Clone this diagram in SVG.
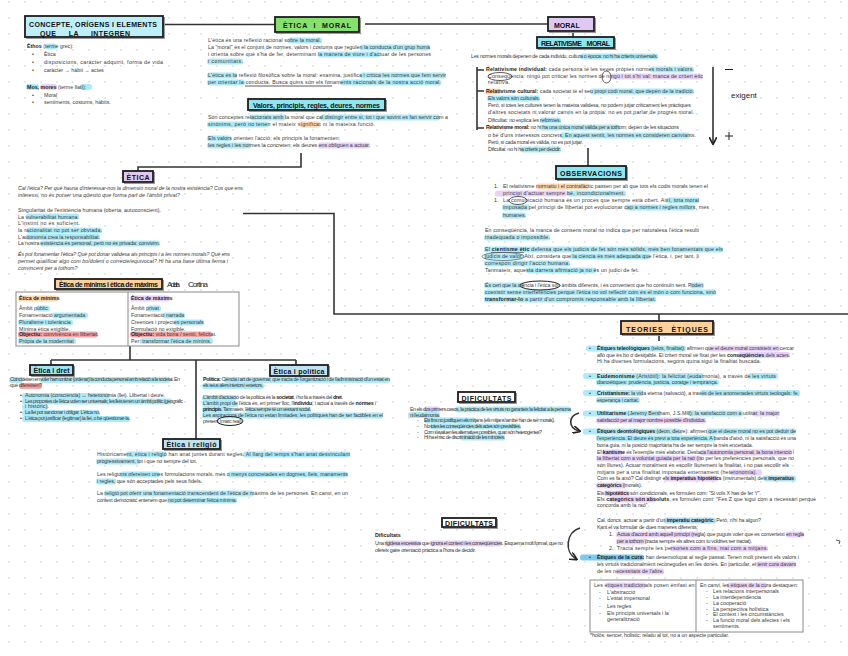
<svg xmlns="http://www.w3.org/2000/svg" width="848" height="656" viewBox="0 0 848 656">
<defs>
<pattern id="dots" x="1" y="-6" width="16" height="16" patternUnits="userSpaceOnUse"><circle cx="8" cy="8" r="0.75" fill="#c8c8c8"/></pattern>
<marker id="ah" viewBox="0 0 10 10" refX="8" refY="5" markerWidth="5" markerHeight="5" orient="auto-start-reverse"><path d="M0,0 L10,5 L0,10" fill="none" stroke="#222" stroke-width="2"/></marker>
<style>
.t{font-family:"Liberation Sans",Arial,sans-serif;font-size:5.3px;fill:#3a3a3a}
.b{font-weight:bold;fill:#222}
.i{font-style:italic}
.hd{font-family:"Liberation Sans",Arial,sans-serif;font-weight:bold;fill:#111;font-size:7px}
.hw{font-family:"Liberation Sans Narrow","Liberation Sans",sans-serif;font-size:8px;fill:#222}
.bx{stroke:#1c1c1c;stroke-width:1.8}
.sh{fill:none;stroke:#9a9a9a;stroke-width:1}
.hc{fill:#aeeaf8}
.hp{fill:#e8d3f8}
.ho{fill:#ffd8b0}
.hr{fill:#f6a5a5}
.hb{fill:#7cc9f2}
.ln{stroke:#333;stroke-width:1.6;fill:none}
.tb{fill:#fff;stroke:#8a8a8a;stroke-width:1}
</style>
</defs>
<rect width="848" height="656" fill="#fff"/>
<rect width="848" height="656" fill="url(#dots)"/>

<g id="connectors">
<path class="ln" d="M163,24.5 H275"/>
<path class="ln" d="M365,24 H548"/>
<path class="ln" d="M573,31 V37"/>
<path class="ln" d="M301,153 V167 H138 V171"/>
<path class="ln" d="M243,213.5 H334 V314 H848"/>
<path class="ln" d="M659,314 V321"/>
<path class="ln" d="M659,334 V341"/>
<path class="ln" d="M588,148 V166"/>
<path class="ln" d="M130,346 V360"/>
<path class="ln" d="M51,360 H296"/>
<path class="ln" d="M51,360 V365"/>
<path class="ln" d="M296,360 V365"/>
<path class="ln" d="M196,360 V439"/>
<path class="ln" d="M477,67 V130 M477,70 H484 M477,91 H484 M477,128 H484" stroke-width="1.2"/>
<path class="ln" d="M713,67 V143" stroke-width="1.3" marker-end="url(#ah)"/>
<path class="ln" d="M579,413 C568,416 568,428 579,431" stroke-width="1.3" marker-end="url(#ah)"/>
<path class="ln" d="M580,528 C566,532 564,552 576,559" stroke-width="1.3" marker-end="url(#ah)"/>
<path d="M836,540 l4,1 l-1,3" fill="none" stroke="#444" stroke-width="0.9"/>
</g>

<g id="n-concepte">
<rect class="sh" x="26.5" y="17.5" width="138" height="21"/>
<rect class="bx" x="25" y="16" width="138" height="21" fill="#bdeffa"/>
<text class="hd" x="29" y="27" textLength="128">CONCEPTE, ORÍGENS I ELEMENTS</text>
<text class="hd" x="40" y="35.5" textLength="90" word-spacing="10">QUE LA INTEGREN</text>
<rect class="hc" x="45" y="43.5" width="12" height="6" rx="2.5"/>
<text class="t" x="27" y="48"><tspan class="b">Èthos</tspan> (terme grec):</text>
<text class="t" x="32" y="56">•</text><text class="t" x="44" y="56">Ètica</text>
<text class="t" x="32" y="64">•</text><text class="t" x="44" y="64" textLength="119">disposicions, caràcter adquirit, forma de vida</text>
<text class="t" x="32" y="72">•</text><text class="t" x="44" y="72">caràcter → hàbit → actes</text>
<rect class="hc" x="26" y="84" width="13" height="6" rx="2.5"/>
<rect class="hp" x="40" y="84" width="17" height="6" rx="2.5"/>
<rect class="hc" x="80" y="84" width="12" height="6" rx="2.5"/>
<text class="t" x="27" y="88.5"><tspan class="b">Mos, mores</tspan> (terme llatí):</text>
<text class="t" x="32" y="96.5">•</text><text class="t" x="44" y="96.5">Moral</text>
<text class="t" x="32" y="104">•</text><text class="t" x="44" y="104">sentiments, costums, hàbits.</text>
</g>

<g id="n-eticamoral">
<rect class="sh" x="276.5" y="18.5" width="84" height="15"/>
<rect class="bx" x="275" y="17" width="84" height="15" fill="#86e06c"/>
<text class="hd" x="283" y="28" font-size="8.5" textLength="68" word-spacing="3">ÈTICA I MORAL</text>
<rect class="hc" x="288" y="37.5" width="34" height="6" rx="2.5"/>
<rect class="hc" x="360" y="44.5" width="70" height="6" rx="2.5"/>
<rect class="hc" x="318" y="51.5" width="62" height="6" rx="2.5"/>
<rect class="hc" x="207" y="58.5" width="36" height="6" rx="2.5"/>
<rect class="hc" x="207" y="72.5" width="30" height="6" rx="2.5"/>
<rect class="hc" x="360" y="72.5" width="86" height="6" rx="2.5"/>
<rect class="hc" x="207" y="79.5" width="38" height="6" rx="2.5"/>
<rect class="hc" x="340" y="79.5" width="101" height="6" rx="2.5"/>
<text class="t" x="208" y="42" textLength="113">L'ètica és una reflexió racional sobre la moral.</text>
<text class="t" x="208" y="49" textLength="222">La "moral" és el conjunt de normes, valors i costums que regulen la conducta d'un grup humà</text>
<text class="t" x="208" y="56" textLength="223">i orienta sobre què s'ha de fer, determinant la manera de viure i d'actuar de les persones</text>
<text class="t" x="208" y="63" textLength="35">i comunitats.</text>
<text class="t" x="208" y="77" textLength="238">L'ètica és la reflexió filosòfica sobre la moral: examina, justifica i critica les normes que fem servir</text>
<text class="t" x="208" y="84" textLength="233">per orientar la conducta. Busca quins són els fonaments racionals de la nostra acció moral.</text>
<path d="M245,86 H332" stroke="#333" stroke-width="0.8"/>
</g>

<g id="n-valors">
<rect class="sh" x="249.5" y="100.5" width="137" height="11"/>
<rect class="bx" x="248" y="99" width="137" height="11" fill="#8ee6f0"/>
<text class="hd" x="253" y="107.5" font-size="6.3" textLength="127">Valors, principis, regles, deures, normes</text>
<rect class="hc" x="250" y="114.5" width="36" height="6" rx="2.5"/>
<rect class="hc" x="320" y="114.5" width="120" height="6" rx="2.5"/>
<rect class="hc" x="207" y="121.5" width="62" height="6" rx="2.5"/>
<rect class="ho" x="300" y="121.5" width="20" height="6" rx="2.5"/>
<rect class="hc" x="207" y="135.5" width="24" height="6" rx="2.5"/>
<rect class="hc" x="207" y="142.5" width="44" height="6" rx="2.5"/>
<rect class="hp" x="318" y="142.5" width="52" height="6" rx="2.5"/>
<text class="t" x="208" y="119" textLength="240">Són conceptes relacionats amb la moral que cal distingir entre si, tot i que sovint es fan servir com a</text>
<text class="t" x="208" y="126" textLength="167">sinònims, però no tenen el mateix significat ni la mateixa funció.</text>
<text class="t" x="208" y="140" textLength="132">Els valors orienten l'acció; els principis la fonamenten;</text>
<text class="t" x="208" y="147" textLength="162">les regles i les normes la concreten; els deures ens obliguen a actuar.</text>
</g>

<g id="n-moral">
<rect class="sh" x="549.5" y="18.5" width="46" height="14"/>
<rect class="bx" x="548" y="17" width="46" height="14" fill="#dfc8f2"/>
<text class="hd" x="554" y="28" font-size="9">MORAL</text>
</g>

<g id="n-relativisme">
<rect class="sh" x="538.5" y="38.5" width="77" height="11"/>
<rect class="bx" x="537" y="37" width="77" height="11" fill="#8ee6f0"/>
<text class="hd" x="541" y="45.5" font-size="6.2" textLength="69" word-spacing="4">RELATIVISME MORAL</text>
<rect class="hc" x="580" y="53.5" width="78" height="6" rx="2.5"/>
<text class="t" x="471" y="58" textLength="187">Les normes morals depenen de cada individu, cultura o època: no hi ha criteris universals.</text>
<rect class="hc" x="650" y="66.5" width="44" height="6" rx="2.5"/>
<rect class="hp" x="611" y="73.5" width="92" height="6" rx="2.5"/>
<rect class="ho" x="485" y="88.5" width="16" height="6" rx="2.5"/>
<rect class="hc" x="590" y="88.5" width="104" height="6" rx="2.5"/>
<rect class="hc" x="487" y="95.5" width="53" height="6" rx="2.5"/>
<rect class="hc" x="540" y="117.5" width="21" height="6" rx="2.5"/>
<rect class="hc" x="540" y="124.5" width="80" height="6" rx="2.5"/>
<rect class="hc" x="560" y="132.5" width="130" height="6" rx="2.5"/>
<rect class="hc" x="520" y="146.5" width="41" height="6" rx="2.5"/>
<text class="t" x="486" y="71" textLength="208"><tspan class="b">Relativisme individual:</tspan> cada persona té les seves pròpies normes morals i valors.</text>
<text class="t" x="488" y="78" textLength="215">Conseqüència: ningú pot criticar les normes de ningú i tot s'hi val: manca de criteri ètic</text>
<ellipse cx="500" cy="76.5" rx="12" ry="4" fill="none" stroke="#333" stroke-width="0.8"/>
<ellipse cx="606.5" cy="77" rx="4.5" ry="6" fill="none" stroke="#333" stroke-width="0.8"/>
<text class="t" x="488" y="84" textLength="22">relativa.</text>
<text class="t" x="486" y="93" textLength="208"><tspan class="b">Relativisme cultural:</tspan> cada societat té el seu propi codi moral, que depèn de la tradició.</text>
<text class="t" x="488" y="100" textLength="52">Els valors són culturals.</text>
<text class="t" x="488" y="107" textLength="203">Però, si totes les cultures tenen la mateixa validesa, no podem jutjar críticament les pràctiques</text>
<text class="t" x="488" y="114" textLength="206">d'altres societats ni valorar canvis en la pròpia: no es pot parlar de progrés moral.</text>
<text class="t" x="488" y="122" textLength="73">Dificultat: no explica les reformes.</text>
<text class="t" x="486" y="129" textLength="193"><tspan class="b">Relativisme moral:</tspan> no hi ha una única moral vàlida per a tothom; depèn de les situacions</text>
<text class="t" x="488" y="137" textLength="208">o bé d'uns interessos concrets. En aquest sentit, les normes es consideren canviants.</text>
<text class="t" x="488" y="144" textLength="95">Però, si cada moral és vàlida, no es pot jutjar.</text>
<text class="t" x="488" y="151" textLength="73">Dificultat: no hi ha criteris per decidir.</text>
<path d="M725,69.5 H733" stroke="#222" stroke-width="1"/>
<text class="hw" x="731" y="98" font-size="9">exigent</text>
<path d="M725,136 H733 M729,132 V140" stroke="#222" stroke-width="1"/>
</g>

<g id="n-observacions">
<rect class="sh" x="557.5" y="167.5" width="70" height="13"/>
<rect class="bx" x="556" y="166" width="70" height="13" fill="#8ee6f0"/>
<text class="hd" x="560" y="175.5" font-size="6.6" textLength="62">OBSERVACIONS</text>
<rect class="ho" x="536" y="183.5" width="53" height="6" rx="2.5"/>
<rect class="hp" x="495" y="190.5" width="72" height="6" rx="2.5"/>
<rect class="hc" x="567" y="190.5" width="59" height="6" rx="2.5"/>
<rect class="hc" x="666" y="197.5" width="33" height="6" rx="2.5"/>
<rect class="hc" x="502" y="204.5" width="28" height="6" rx="2.5"/>
<rect class="hc" x="625" y="204.5" width="70" height="6" rx="2.5"/>
<rect class="hc" x="502" y="212.5" width="24" height="6" rx="2.5"/>
<rect class="hc" x="484" y="234.5" width="66" height="6" rx="2.5"/>
<rect class="hc" x="484" y="246.5" width="239" height="6" rx="2.5"/>
<rect class="hc" x="484" y="253.5" width="40" height="6" rx="2.5"/>
<rect class="hc" x="570" y="253.5" width="80" height="6" rx="2.5"/>
<rect class="hc" x="484" y="260.5" width="86" height="6" rx="2.5"/>
<rect class="hc" x="526" y="267.5" width="70" height="6" rx="2.5"/>
<rect class="hc" x="484" y="282.5" width="40" height="6" rx="2.5"/>
<rect class="hc" x="690" y="282.5" width="14" height="6" rx="2.5"/>
<rect class="hc" x="484" y="289.5" width="232" height="6" rx="2.5"/>
<rect class="hc" x="484" y="296.5" width="172" height="6" rx="2.5"/>
<text class="t" x="494" y="188">1.</text>
<text class="t" x="503" y="188" textLength="205">El relativisme normatiu i el contrafàctic passen per alt que tots els codis morals tenen el</text>
<text class="t" x="503" y="195" textLength="122">principi d'actuar sempre bé, incondicionalment.</text>
<text class="t" x="494" y="202">1.</text>
<text class="t" x="503" y="202" textLength="196">La comunicació humana és un procés que sempre està obert. Així, tota moral</text>
<ellipse cx="518" cy="200.5" rx="9" ry="4" fill="none" stroke="#333" stroke-width="0.8"/>
<text class="t" x="503" y="209" textLength="206">imposada pel principi de llibertat pot evolucionar cap a normes i regles millors, més</text>
<text class="t" x="503" y="216.5" textLength="23">humanes.</text>
<text class="t" x="485" y="232" textLength="214">En conseqüència, la manca de consens moral no indica que per naturalesa l'ètica resulti</text>
<text class="t" x="485" y="239" textLength="65">inadequada o impossible.</text>
<text class="t" x="485" y="251" textLength="238">El <tspan class="b">cientisme ètic</tspan> defensa que els judicis de fet són més sòlids, més ben fonamentats que els</text>
<path d="M491,252.5 H524" stroke="#333" stroke-width="0.6"/>
<text class="t" x="485" y="258" textLength="214">judicis de valor. Així, considera que la ciència és més adequada que l'ètica, i, per tant, li</text>
<ellipse cx="503" cy="256.5" rx="21" ry="4" fill="none" stroke="#555" stroke-width="0.7"/>
<text class="t" x="485" y="265" textLength="85">correspon dirigir l'acció humana.</text>
<text class="t" x="485" y="272" textLength="154">Tanmateix, aquesta darrera afirmació ja no és un judici de fet.</text>
<text class="t" x="485" y="287" textLength="218">És cert que la ciència i l'ètica són àmbits diferents, i és convenient que ho continuïn sent. Poden</text>
<ellipse cx="540" cy="285.5" rx="20" ry="4.5" fill="none" stroke="#222" stroke-width="1"/>
<text class="t" x="485" y="294" textLength="231">coexistir sense interferències perquè l'ètica no vol reflectir com és el món o com funciona, sinó</text>
<text class="t" x="485" y="301" textLength="171"><tspan class="b">transformar-lo</tspan> a partir d'un compromís responsable amb la llibertat.</text>
</g>

<g id="n-etica">
<rect class="sh" x="124.5" y="172.5" width="30" height="11"/>
<rect class="bx" x="123" y="171" width="30" height="11" fill="#dfc8f2"/>
<text class="hd" x="126.5" y="180" font-size="6.5" textLength="23">ÈTICA</text>
<text class="t i" x="18" y="190" textLength="225">Cal l'ètica? Per què hauria d'interessar-nos la dimensió moral de la nostra existència? Cos que ens</text>
<text class="t i" x="18" y="197" textLength="162">interessi, no és potser una qüestió que forma part de l'àmbit privat?</text>
<rect class="hc" x="26" y="213.5" width="53" height="6" rx="2.5"/>
<rect class="hc" x="27" y="227.5" width="75" height="6" rx="2.5"/>
<rect class="hc" x="26" y="234" width="74" height="6" rx="2.5"/>
<rect class="hc" x="40" y="240.5" width="120" height="6" rx="2.5"/>
<text class="t" x="18" y="212" textLength="143">Singularitat de l'existència humana (oberta, autoconscient).</text>
<text class="t" x="18" y="218.5" textLength="61">La vulnerabilitat humana.</text>
<text class="t" x="18" y="225" textLength="62">L'instint no és suficient.</text>
<text class="t" x="18" y="232" textLength="84">la racionalitat no pot ser obviada.</text>
<text class="t" x="18" y="238.5" textLength="82">L'autonomia crea la responsabilitat.</text>
<text class="t" x="18" y="245" textLength="142">La nostra existència és personal, però no és privada: convivim.</text>
<text class="t i" x="18" y="256" textLength="212">És pot fonamentar l'ètica? Què pot donar validesa als principis i a les normes morals? Què ens</text>
<text class="t i" x="18" y="263" textLength="210">permet qualificar algo com bo/dolent o correcte/equivocat? Hi ha una base última ferma i</text>
<text class="t i" x="18" y="270">convincent per a tothom?</text>
</g>

<g id="n-minims">
<rect class="sh" x="56.5" y="280.5" width="107" height="10"/>
<rect class="bx" x="55" y="279" width="107" height="10" fill="#fcd19c"/>
<text class="hd" x="59" y="286.8" font-size="5.6" textLength="99">Ètica de mínims i ètica de màxims</text>
<text class="hw" x="167" y="287" font-size="6.5" textLength="13">Adela</text>
<text class="hw" x="188" y="287" font-size="6.5" textLength="20">Cortina</text>
<rect class="tb" x="16" y="292" width="223" height="54"/>
<path d="M128,292 V346" stroke="#8a8a8a" stroke-width="1"/>
<rect class="ho" x="18" y="295.5" width="40" height="6" rx="2.5"/>
<rect class="hc" x="36" y="305.5" width="14" height="6" rx="2.5"/>
<rect class="hc" x="52" y="312.5" width="36" height="6" rx="2.5"/>
<rect class="hc" x="18" y="319.5" width="55" height="6" rx="2.5"/>
<rect class="hr" x="18" y="331.5" width="80" height="6" rx="2.5"/>
<rect class="hc" x="18" y="338" width="58" height="6" rx="2.5"/>
<text class="t b" x="19" y="300">Ètica de mínims</text>
<text class="t" x="19" y="310">Àmbit públic</text>
<text class="t" x="19" y="317">Fonamentació argumentada</text>
<text class="t" x="19" y="324">Pluralisme i tolerància</text>
<text class="t" x="19" y="330.5">Mínima ètica exigible.</text>
<text class="t" x="19" y="336"><tspan class="b">Objectiu:</tspan> convivència en llibertat.</text>
<text class="t" x="19" y="342.5">Pròpia de la modernitat</text>
<rect class="hp" x="130" y="295.5" width="40" height="6" rx="2.5"/>
<rect class="hc" x="147" y="305.5" width="14" height="6" rx="2.5"/>
<rect class="hc" x="163" y="312.5" width="22" height="6" rx="2.5"/>
<rect class="hc" x="174" y="319.5" width="30" height="6" rx="2.5"/>
<rect class="hr" x="130" y="331.5" width="82" height="6" rx="2.5"/>
<rect class="hc" x="140" y="338" width="73" height="6" rx="2.5"/>
<text class="t b" x="131" y="300">Ètica de màxims</text>
<text class="t" x="131" y="310">Àmbit privat</text>
<text class="t" x="131" y="317">Fonamentació narrada</text>
<text class="t" x="131" y="324">Creences i projectes personals</text>
<text class="t" x="131" y="330.5">Formulació no exigible.</text>
<text class="t" x="131" y="336"><tspan class="b">Objectiu:</tspan> vida bona / sentit, felicitat.</text>
<text class="t" x="131" y="342.5">Per: transformar l'ètica de mínims.</text>
</g>

<g id="n-dret">
<rect class="sh" x="31.5" y="366.5" width="43" height="10"/>
<rect class="bx" x="30" y="365" width="43" height="10" fill="#9fe6f5"/>
<text class="hd" x="33.5" y="372.8" font-size="5.8" textLength="36">Ètica i dret</text>
<rect class="hc" x="9" y="377" width="14" height="6" rx="2.5"/>
<rect class="hc" x="40" y="377" width="130" height="6" rx="2.5"/>
<rect class="hr" x="19" y="383" width="23" height="6" rx="2.5"/>
<rect class="hc" x="22" y="393" width="88" height="6" rx="2.5"/>
<rect class="hc" x="22" y="398.5" width="150" height="6" rx="2.5"/>
<rect class="hc" x="22" y="404" width="26" height="6" rx="2.5"/>
<rect class="hc" x="22" y="410" width="78" height="6" rx="2.5"/>
<rect class="hc" x="22" y="416" width="108" height="6" rx="2.5"/>
<text class="t" x="10" y="381" textLength="170">Coincideixen en voler harmonitzar (ordenar) la conducta personal amb relació a la societat. En</text>
<text class="t" x="10" y="387" textLength="32">què difereixen?</text>
<text class="t" x="20" y="397">•</text><text class="t" x="25" y="397" textLength="140">Autonomia (consciència) ↔ heteronomia (llei). Llibertat i deure.</text>
<text class="t" x="20" y="402.5">•</text><text class="t" x="25" y="402.5" textLength="158">Les propostes de l'ètica volen ser universals; les lleis tenen un àmbit polític (geogràfic</text>
<text class="t" x="25" y="408" textLength="24">i històric).</text>
<text class="t" x="20" y="414">•</text><text class="t" x="25" y="414" textLength="75">La llei pot sancionar i obligar. L'ètica no.</text>
<text class="t" x="20" y="420">•</text><text class="t" x="25" y="420" textLength="105">L'ètica pot justificar (legitimar) la llei, o bé qüestionar-la.</text>
</g>

<g id="n-politica">
<rect class="sh" x="271.5" y="366.5" width="58" height="11"/>
<rect class="bx" x="270" y="365" width="58" height="11" fill="#bfe3f3"/>
<text class="hd" x="273.5" y="373.5" font-size="5.8" textLength="51">Ètica i política</text>
<rect class="hc" x="224" y="377" width="166" height="6" rx="2.5"/>
<rect class="hc" x="202" y="383" width="62" height="6" rx="2.5"/>
<rect class="hc" x="202" y="395" width="34" height="6" rx="2.5"/>
<rect class="hc" x="202" y="401" width="36" height="6" rx="2.5"/>
<rect class="hc" x="202" y="407" width="30" height="6" rx="2.5"/>
<rect class="hc" x="246" y="407" width="65" height="6" rx="2.5"/>
<rect class="hc" x="202" y="412.5" width="181" height="6" rx="2.5"/>
<text class="t" x="203" y="381" textLength="187"><tspan class="b">Política:</tspan> Ciència i art de governar, que tracta de l'organització i de l'administració d'un estat en</text>
<text class="t" x="203" y="387" textLength="60">els seus afers interiors i exteriors.</text>
<text class="t" x="203" y="399" textLength="140">L'àmbit d'actuació de la política és la <tspan class="b">societat</tspan>, i ho fa a través del <tspan class="b">dret</tspan>.</text>
<text class="t" x="203" y="405" textLength="173">L'àmbit propi de l'ètica és, en primer lloc, l'<tspan class="b">individu</tspan>, i actua a través de <tspan class="b">normes</tspan> i</text>
<text class="t" x="203" y="411" textLength="108"><tspan class="b">principis</tspan>. Tanmateix, l'ètica sempre té un vessant social.</text>
<text class="t" x="203" y="416.5" textLength="180">Les aspiracions de l'ètica no estan limitades; les polítiques han de ser factibles en el</text>
<text class="t" x="203" y="422.5" textLength="40">present (marc real).</text>
<ellipse cx="230" cy="421" rx="13" ry="4.5" fill="none" stroke="#222" stroke-width="1"/>
</g>

<g id="n-religio">
<rect class="sh" x="164.5" y="440.5" width="57" height="10"/>
<rect class="bx" x="163" y="439" width="57" height="10" fill="#bfe3f3"/>
<text class="hd" x="166.5" y="446.8" font-size="5.8" textLength="50">Ètica i religió</text>
<rect class="hc" x="126" y="451.5" width="40" height="6" rx="2.5"/>
<rect class="hc" x="243" y="451.5" width="107" height="6" rx="2.5"/>
<rect class="hc" x="96" y="458.5" width="44" height="6" rx="2.5"/>
<rect class="hc" x="120" y="471.5" width="40" height="6" rx="2.5"/>
<rect class="hc" x="228" y="471.5" width="120" height="6" rx="2.5"/>
<rect class="hc" x="96" y="478.5" width="20" height="6" rx="2.5"/>
<rect class="hc" x="104" y="490.5" width="150" height="6" rx="2.5"/>
<rect class="hc" x="167" y="497.5" width="70" height="6" rx="2.5"/>
<text class="t" x="97" y="456" textLength="253">Històricament, ètica i religió han anat juntes durant segles. Al llarg del temps s'han anat desvinculant</text>
<text class="t" x="97" y="463" textLength="100">progressivament, tot i que no sempre del tot.</text>
<text class="t" x="97" y="476" textLength="251">Les religions ofereixen unes formulacions morals, més o menys concretades en dogmes, lleis, manaments</text>
<text class="t" x="97" y="483" textLength="105">i regles, que són acceptades pels seus fidels.</text>
<text class="t" x="97" y="495" textLength="251">La religió pot oferir una fonamentació transcendent de l'ètica de màxims de les persones. En canvi, en un</text>
<text class="t" x="97" y="502" textLength="140">context democràtic entenem que no pot determinar l'ètica mínima.</text>
</g>

<g id="n-dificultats1">
<rect class="sh" x="459.5" y="393.5" width="57" height="10"/>
<rect class="bx" x="458" y="392" width="57" height="10" fill="#fff"/>
<text class="hd" x="461.5" y="400.5" font-size="6" textLength="50">DIFICULTATS</text>
<rect class="hp" x="424" y="406.5" width="16" height="6" rx="2.5"/>
<rect class="hc" x="455" y="406.5" width="116" height="6" rx="2.5"/>
<rect class="hc" x="408" y="412" width="32" height="6" rx="2.5"/>
<rect class="hc" x="424" y="417.5" width="50" height="6" rx="2.5"/>
<rect class="hc" x="430" y="423.5" width="91" height="6" rx="2.5"/>
<rect class="hc" x="460" y="434.5" width="45" height="6" rx="2.5"/>
<text class="t" x="410" y="411" textLength="161">En els dos primers casos, la pràctica de les virtuts no garanteix la felicitat a la persona</text>
<text class="t" x="410" y="416.5" textLength="30">ni l'eudaimonia.</text>
<text class="t" x="417" y="422">-</text><text class="t" x="424" y="422" textLength="131">Els fins no justifiquen els mitjans (els mitjans també han de ser morals).</text>
<text class="t" x="417" y="428">-</text><text class="t" x="424" y="428" textLength="97">No totes les conseqüències dels actes són previsibles.</text>
<text class="t" x="417" y="433.5">-</text><text class="t" x="424" y="433.5" textLength="118">Com s'avaluen les alternatives possibles, quan són heterogènies?</text>
<text class="t" x="417" y="439">-</text><text class="t" x="424" y="439" textLength="81">Hi ha el risc de discriminació de les minories.</text>
</g>

<g id="n-teories">
<rect class="sh" x="622.5" y="322.5" width="92" height="13"/>
<rect class="bx" x="621" y="321" width="92" height="13" fill="#fcd19c"/>
<text class="hd" x="626" y="331.5" font-size="7.2" textLength="82" word-spacing="5">TEORIES ÈTIQUES</text>
<rect class="hc" x="586" y="345.5" width="100" height="6" rx="2.5"/>
<rect class="hp" x="708" y="345.5" width="72" height="6" rx="2.5"/>
<rect class="hp" x="738" y="352" width="52" height="6" rx="2.5"/>
<rect class="hc" x="583" y="373" width="120" height="6" rx="2.5"/>
<rect class="hc" x="748" y="373" width="30" height="6" rx="2.5"/>
<rect class="hc" x="596" y="379.5" width="123" height="6" rx="2.5"/>
<rect class="hc" x="583" y="390" width="60" height="6" rx="2.5"/>
<rect class="hc" x="700" y="390" width="100" height="6" rx="2.5"/>
<rect class="hc" x="596" y="397" width="44" height="6" rx="2.5"/>
<rect class="hc" x="583" y="410.5" width="78" height="6" rx="2.5"/>
<rect class="hc" x="688" y="410.5" width="55" height="6" rx="2.5"/>
<rect class="hp" x="752" y="410.5" width="28" height="6" rx="2.5"/>
<rect class="hp" x="596" y="417.5" width="110" height="6" rx="2.5"/>
<rect class="hc" x="583" y="428.5" width="98" height="6" rx="2.5"/>
<rect class="hc" x="706" y="428.5" width="90" height="6" rx="2.5"/>
<rect class="hc" x="596" y="435.5" width="120" height="6" rx="2.5"/>
<rect class="hp" x="602" y="449.5" width="20" height="6" rx="2.5"/>
<rect class="hp" x="700" y="449.5" width="92" height="6" rx="2.5"/>
<rect class="hp" x="596" y="455.5" width="106" height="6" rx="2.5"/>
<rect class="hp" x="730" y="469.5" width="32" height="6" rx="2.5"/>
<rect class="hp" x="664" y="475.5" width="54" height="6" rx="2.5"/>
<rect class="hb" x="764" y="475.5" width="32" height="6" rx="2.5" opacity="0.6"/>
<rect class="hp" x="596" y="482.5" width="30" height="6" rx="2.5"/>
<text class="t" x="589" y="350" font-size="7" fill="#1b4f8a">•</text>
<text class="t" x="597" y="350" textLength="197"><tspan class="b">Ètiques teleològiques</tspan> (telos, finalitat): afirmen que el deure moral consisteix en cercar</text>
<text class="t" x="597" y="356.5" textLength="193">allò que és bo o desitjable. El criteri moral ve fixat per les <tspan class="b">conseqüències</tspan> dels actes.</text>
<text class="t" x="597" y="363" textLength="164">Hi ha diverses formulacions, segons quina sigui la finalitat buscada.</text>
<text class="t" x="589" y="377.5" font-size="7" fill="#1b4f8a">•</text>
<text class="t" x="597" y="377.5" textLength="179"><tspan class="b">Eudemonisme</tspan> (Aristòtil): la felicitat (eudaimonia), a través de les virtuts</text>
<text class="t" x="597" y="384" textLength="121">dianoètiques: prudència, justícia, coratge i temprança.</text>
<text class="t" x="589" y="394.5" font-size="7" fill="#1b4f8a">•</text>
<text class="t" x="597" y="394.5" textLength="202"><tspan class="b">Cristianisme:</tspan> la vida eterna (salvació), a través de les anomenades virtuts teologals: fe,</text>
<text class="t" x="597" y="401.5" textLength="42">esperança i caritat.</text>
<text class="t" x="589" y="415" font-size="7" fill="#1b4f8a">•</text>
<text class="t" x="597" y="415" textLength="182"><tspan class="b">Utilitarisme</tspan> (Jeremy Bentham, J.S.Mill): la satisfacció com a utilitat: la major</text>
<text class="t" x="597" y="422" textLength="109">satisfacció per al major nombre possible d'individus.</text>
<text class="t" x="589" y="433" font-size="7" fill="#1b4f8a">•</text>
<text class="t" x="597" y="433" textLength="199"><tspan class="b">Ètiques deontològiques</tspan> (deon, deure): afirmen que el deure moral no es pot deduir de</text>
<text class="t" x="597" y="440" textLength="199">l'experiència. El deure és previ a tota experiència. A banda d'això, ni la satisfacció és una</text>
<text class="t" x="597" y="446.5" textLength="156">bona guia, ni la posició majoritària ha de ser sempre la més encertada.</text>
<text class="t" x="597" y="453.5" textLength="197">El <tspan class="b">kantisme</tspan> és l'exemple més elaborat. Destaca l'autonomia personal, la bona intenció i</text>
<text class="t" x="597" y="460" textLength="197">la llibertat com a voluntat guiada per la raó (no per les preferències personals, que no</text>
<text class="t" x="597" y="466.5" textLength="192">són lliures). Actuar moralment és escollir lliurement la finalitat, i no pas escollir els</text>
<text class="t" x="597" y="473.5" textLength="160">mitjans per a una finalitat imposada externament (heteronomia).</text>
<text class="t" x="597" y="480" textLength="197">Com es fa això? Cal distingir els <tspan class="b">imperatius hipotètics</tspan> (instrumentals) dels <tspan class="b">imperatius</tspan></text>
<text class="t" x="597" y="486.5" textLength="45"><tspan class="b">categòrics</tspan> (morals).</text>
<rect class="hp" x="604" y="490.5" width="26" height="6" rx="2.5"/>
<rect class="hp" x="610" y="496.5" width="46" height="6" rx="2.5"/>
<rect class="hb" x="664" y="517.5" width="52" height="6" rx="2.5" opacity="0.6"/>
<rect class="hp" x="616" y="531.5" width="84" height="6" rx="2.5"/>
<rect class="hp" x="786" y="531.5" width="18" height="6" rx="2.5"/>
<rect class="hp" x="616" y="538.5" width="30" height="6" rx="2.5"/>
<rect class="hp" x="670" y="545.5" width="98" height="6" rx="2.5"/>
<rect class="hb" x="580" y="554.5" width="64" height="6" rx="2.5"/>
<rect class="hp" x="756" y="561.5" width="40" height="6" rx="2.5"/>
<rect class="hp" x="616" y="568.5" width="48" height="6" rx="2.5"/>
<text class="t" x="597" y="495" textLength="164">Els <tspan class="b">hipotètics</tspan> són condicionals, es formulen com: "Si vols X has de fer Y".</text>
<text class="t" x="597" y="501" textLength="219">Els <tspan class="b">categòrics són absoluts</tspan>, es formulen com: "Fes Z que sigui com a necessari perquè</text>
<text class="t" x="597" y="507" textLength="52">concorda amb la raó".</text>
<text class="t" x="597" y="521.5" textLength="164">Cal, doncs, actuar a partir d'un <tspan class="b">imperatiu categòric</tspan>. Però, n'hi ha algun?</text>
<text class="t" x="597" y="528.5" textLength="101">Kant el va formular de dues maneres diferents:</text>
<text class="t" x="609" y="535.5">1.</text>
<text class="t" x="617" y="535.5" textLength="187">Actua d'acord amb aquell principi (regla) que puguis voler que es converteixi en regla</text>
<text class="t" x="617" y="542.5" textLength="135">per a tothom (tracta sempre els altres com tu voldries ser tractat).</text>
<text class="t" x="609" y="549.5">2.</text>
<text class="t" x="617" y="549.5" textLength="151">Tracta sempre les persones com a fins, mai com a mitjans.</text>
<text class="t" x="589" y="559" font-size="7" fill="#1b4f8a">•</text>
<text class="t" x="597" y="559" textLength="202"><tspan class="b">Ètiques de la cura:</tspan> han desenvolupat al segle passat. Tenen molt present els valors i</text>
<text class="t" x="597" y="566" textLength="199">les virtuts tradicionalment reconegudes en les dones. En particular, el tenir cura davant</text>
<text class="t" x="597" y="573" textLength="67">de les necessitats de l'altre.</text>
<rect class="tb" x="590" y="580" width="213" height="52"/>
<path d="M696,580 V632" stroke="#8a8a8a" stroke-width="1"/>
<rect class="hp" x="606" y="582.5" width="40" height="6" rx="2.5"/>
<rect class="hp" x="727" y="582.5" width="40" height="6" rx="2.5"/>
<text class="t" x="594" y="587" textLength="102">Les ètiques tradicionals posen èmfasi en:</text>
<text class="t" x="599" y="593.5">-</text><text class="t" x="607" y="593.5">L'abstracció</text>
<text class="t" x="599" y="600">-</text><text class="t" x="607" y="600">L'estat impersonal</text>
<text class="t" x="599" y="607.5">-</text><text class="t" x="607" y="607.5">Les regles</text>
<text class="t" x="599" y="614.5">-</text><text class="t" x="607" y="614.5">Els principis universals i la</text>
<text class="t" x="607" y="621">generalització</text>
<text class="t" x="700" y="587" textLength="98">En canvi, les ètiques de la cura destaquen:</text>
<text class="t" x="706" y="593">-</text><text class="t" x="713" y="593">Les relacions interpersonals</text>
<text class="t" x="706" y="599">-</text><text class="t" x="713" y="599">La interdependència</text>
<text class="t" x="706" y="605">-</text><text class="t" x="713" y="605">La cooperació</text>
<text class="t" x="706" y="610.5">-</text><text class="t" x="713" y="610.5">La perspectiva holística</text>
<text class="t" x="706" y="616">-</text><text class="t" x="713" y="616">El context i les circumstàncies</text>
<text class="t" x="706" y="622">-</text><text class="t" x="713" y="622">La funció moral dels afectes i els</text>
<text class="t" x="713" y="628">sentiments.</text>
<text class="t" x="590" y="637" textLength="139">*holós: sencer, holístic: relatiu al tot, no a un aspecte particular.</text>
</g>

<g id="n-dificultats2">
<rect class="sh" x="443.5" y="519.5" width="54" height="9"/>
<rect class="bx" x="442" y="518" width="54" height="9" fill="#fff"/>
<text class="hd" x="445" y="525.5" font-size="5.8" textLength="48">DIFICULTATS</text>
<rect class="hp" x="385" y="540.5" width="36" height="6" rx="2.5"/>
<rect class="hp" x="430" y="540.5" width="72" height="6" rx="2.5"/>
<text class="t b" x="375" y="537">Dificultats</text>
<text class="t" x="375" y="545" textLength="188">Una rigidesa excessiva que ignora el context i les conseqüències. Esquema molt formal, que no</text>
<text class="t" x="375" y="552" textLength="101">ofereix gaire orientació pràctica a l'hora de decidir.</text>
</g>
</svg>
